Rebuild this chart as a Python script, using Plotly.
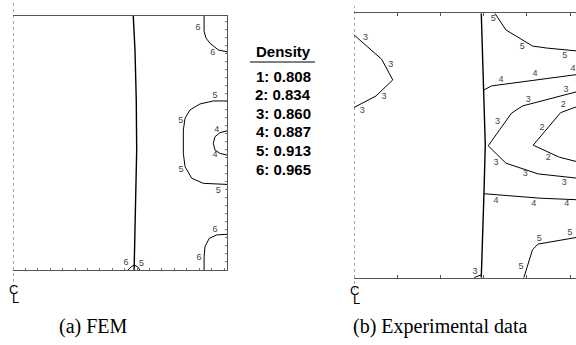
import plotly.graph_objects as go

# ---------------- data (panel units: width = 100, height = 118.7) ----------------
H = 118.7

# (a) FEM
fem_boundary_x = [56.2, 57.0, 57.6, 57.8, 57.3, 56.9, 56.7, 56.6]
fem_boundary_y = [118.7, 102.8, 79.4, 56.1, 32.7, 9.3, 3.3, 0]
fem_c6_top_x = [89.3, 89.3, 90.2, 92.1, 96.0, 100]
fem_c6_top_y = [118.7, 111.4, 108.4, 105.9, 102.8, 102.0]
fem_c5_x = [100, 93.6, 87.4, 82.7, 80.4, 79.6, 79.6, 80.4, 83.5, 88.9, 100]
fem_c5_y = [79.0, 79.0, 77.6, 74.8, 70.9, 65.4, 54.5, 48.3, 42.9, 40.5, 40.0]
fem_c4_x = [100, 96.7, 94.4, 93.6, 94.4, 96.7, 100]
fem_c4_y = [65.0, 64.2, 62.3, 59.2, 56.1, 54.5, 53.7]
fem_c6_bot_x = [100, 95.2, 91.7, 89.7, 89.3, 89.3]
fem_c6_bot_y = [16.7, 16.4, 14.8, 10.9, 6.2, 0]
fem_c6_small_x = [56.7, 55.2, 53.7]
fem_c6_small_y = [2.3, 1.5, 0]
fem_c5_small_x = [56.7, 58.2, 59.3]
fem_c5_small_y = [2.3, 1.5, 0]
fem_label_text = ["6", "6", "5", "5", "5", "5", "4", "4", "6", "6", "6", "5"]
fem_label_x = [86.5, 93.3, 94.4, 78.4, 78.5, 95.9, 95.2, 94.4, 94.4, 86.9, 52.8, 60.1]
fem_label_y = [113.1, 101.4, 81.3, 69.6, 46.7, 36.9, 65.7, 53.7, 18.7, 5.9, 3.4, 3.1]

# (b) Experimental data
exp_boundary_x = [57.1, 58.3, 58.9, 58.3, 57.6, 57.1]
exp_boundary_y = [118.7, 84.3, 59.6, 37.7, 17.0, 0]
exp_c3_left_x = [0, 12.4, 17.4, 9.9, 0]
exp_c3_left_y = [109.0, 98.1, 88.8, 81.6, 76.4]
exp_c5_top_x = [63.2, 68.2, 80.1, 86.5, 100]
exp_c5_top_y = [118.7, 111.2, 104.0, 103.1, 101.8]
exp_c4_up_x = [58.3, 61.7, 100]
exp_c4_up_y = [84.3, 86.1, 91.2]
exp_c3_x = [100, 75.6, 70.7, 60.2, 68.2, 82.6, 100]
exp_c3_y = [83.5, 77.1, 73.9, 59.2, 51.4, 46.6, 44.7]
exp_c2_x = [100, 92.7, 80.4, 92.1, 100]
exp_c2_y = [76.8, 74.1, 59.5, 54.1, 52.1]
exp_c4_low_x = [58.3, 83.4, 100]
exp_c4_low_y = [37.7, 35.7, 35.0]
exp_c5_low_x = [100, 82.6, 80.1, 76.2]
exp_c5_low_y = [18.1, 15.1, 12.6, 0]
exp_c3_small_x = [53.8, 57.1]
exp_c3_small_y = [0, 1.3]
exp_label_text = ["3", "3", "3", "3", "5", "5", "5", "4", "4", "4", "3", "3", "3",
                  "3", "3", "3", "2", "2", "2", "4", "4", "4", "5", "5", "5", "3"]
exp_label_x = [5.2, 16.5, 13.5, 3.7, 62.5, 75.5, 94.6, 65.9, 81.2, 98.3, 95.1, 78.2, 64.4,
               63.7, 76.8, 94.3, 93.9, 84.4, 87.1, 63.7, 80.7, 95.4, 83.1, 96.9, 74.9, 54.3]
exp_label_y = [107.8, 95.5, 81.3, 75.0, 116.4, 103.7, 99.5, 88.8, 91.5, 93.6, 84.6, 80.1, 70.1,
               51.7, 46.6, 42.7, 77.6, 67.4, 53.9, 34.5, 33.0, 33.0, 17.4, 20.0, 5.1, 2.8]

legend_title = "Density"
legend_levels = ["1", "2", "3", "4", "5", "6"]
legend_values = ["0.808", "0.834", "0.860", "0.887", "0.913", "0.965"]
captions = ["(a) FEM", "(b) Experimental data"]

# ---------------- figure ----------------
W_PX, H_PX = 576, 345
fig = go.Figure()

LINE = dict(color="black", width=1)
LABEL_FONT = dict(family="Liberation Sans, Arial", size=9, color="#444")

fem_lines = [
    (fem_c6_top_x, fem_c6_top_y), (fem_c5_x, fem_c5_y), (fem_c4_x, fem_c4_y),
    (fem_c6_bot_x, fem_c6_bot_y), (fem_c6_small_x, fem_c6_small_y), (fem_c5_small_x, fem_c5_small_y),
]
exp_lines = [
    (exp_c3_left_x, exp_c3_left_y), (exp_c5_top_x, exp_c5_top_y), (exp_c4_up_x, exp_c4_up_y),
    (exp_c3_x, exp_c3_y), (exp_c2_x, exp_c2_y), (exp_c4_low_x, exp_c4_low_y),
    (exp_c5_low_x, exp_c5_low_y), (exp_c3_small_x, exp_c3_small_y),
]

def add_panel(lines, bx, by, lt, lx, ly, xa, ya):
    fig.add_trace(go.Scatter(x=bx, y=by, mode="lines", line=dict(color="black", width=1.4),
                             xaxis=xa, yaxis=ya, hoverinfo="skip"))
    for xs, ys in lines:
        fig.add_trace(go.Scatter(x=xs, y=ys, mode="lines", line=LINE,
                                 xaxis=xa, yaxis=ya, hoverinfo="skip"))
    fig.add_trace(go.Scatter(x=lx, y=ly, text=lt, mode="text", textfont=LABEL_FONT,
                             textposition="middle center", xaxis=xa, yaxis=ya, hoverinfo="skip"))

add_panel(fem_lines, fem_boundary_x, fem_boundary_y, fem_label_text, fem_label_x, fem_label_y, "x", "y")
add_panel(exp_lines, exp_boundary_x, exp_boundary_y, exp_label_text, exp_label_x, exp_label_y, "x2", "y2")

FRAME = "#555"
fig.update_layout(
    width=W_PX, height=H_PX, margin=dict(l=0, r=0, t=0, b=0),
    paper_bgcolor="white", plot_bgcolor="white", showlegend=False,
    xaxis=dict(domain=[13 / W_PX, 227 / W_PX], range=[0, 100], showgrid=False, zeroline=False,
               showline=True, linecolor=FRAME, linewidth=1.3, mirror=True,
               ticks="inside", ticklen=2, tickcolor="#777", tickwidth=1, dtick=5.8, tick0=0,
               showticklabels=False),
    yaxis=dict(domain=[1 - 270 / H_PX, 1 - 16 / H_PX], range=[0, H], side="right",
               showgrid=False, zeroline=False, showline=True, linecolor=FRAME, linewidth=1.3,
               ticks="inside", ticklen=2, tickcolor="#777", tickwidth=1, dtick=3.75, tick0=0,
               showticklabels=False),
    xaxis2=dict(domain=[354 / W_PX, 1], range=[0, 99.6], anchor="y2", showgrid=False, zeroline=False,
                showline=True, linecolor=FRAME, linewidth=1.3, mirror="ticks",
                ticks="inside", ticklen=3, tickcolor=FRAME, dtick=19.4, tick0=0,
                showticklabels=False),
    yaxis2=dict(domain=[1 - 277.7 / H_PX, 1 - 13.3 / H_PX], range=[0, H], anchor="x2",
                visible=False),
)

# dashed centerlines
fig.add_shape(type="line", xref="x", yref="paper", x0=0, x1=0, y0=1 - 288 / H_PX, y1=1 - 3 / H_PX,
              line=dict(color="#555", width=1, dash="dot"))
fig.add_shape(type="line", xref="x2", yref="paper", x0=0, x1=0, y0=1 - 290 / H_PX, y1=1 - 6 / H_PX,
              line=dict(color="#555", width=1, dash="dot"))

# centerline symbols: C above L, L stem on the centre line
CL_FONT = dict(family="Liberation Sans, Arial", size=13, color="black")
for xr, yoff in [("x", 0), ("x2", 1)]:
    fig.add_annotation(x=0, xref=xr, y=1 - (289 + yoff) / H_PX, yref="paper", text="C",
                       showarrow=False, font=CL_FONT, xanchor="center", yanchor="middle",
                       xshift=0, borderpad=0)
    fig.add_annotation(x=0, xref=xr, y=1 - (298 + yoff) / H_PX, yref="paper", text="L",
                       showarrow=False, font=CL_FONT, xanchor="left", yanchor="middle",
                       xshift=-2.5, borderpad=0)

# legend block
LEG_X = 283 / W_PX
LEG_FONT = dict(family="Liberation Sans, Arial", size=15, color="black")
fig.add_annotation(x=LEG_X, y=1 - 52 / H_PX, xref="paper", yref="paper", text="<b>" + legend_title + "</b>",
                   showarrow=False, font=LEG_FONT, xanchor="center", yanchor="middle")
fig.add_shape(type="line", xref="paper", yref="paper", x0=250 / W_PX, x1=315 / W_PX,
              y0=1 - 62 / H_PX, y1=1 - 62 / H_PX, line=dict(color="black", width=1.2))
for i, (lv, val) in enumerate(zip(legend_levels, legend_values)):
    fig.add_annotation(x=LEG_X, y=1 - (76 + i * 18.6) / H_PX, xref="paper", yref="paper",
                       text="<b>" + lv + ": " + val + "</b>", showarrow=False, font=LEG_FONT,
                       xanchor="center", yanchor="middle")

# captions
for cx, cap in zip([93, 440], captions):
    fig.add_annotation(x=cx / W_PX, y=1 - 326 / H_PX, xref="paper", yref="paper", text=cap,
                       showarrow=False, font=dict(family="Liberation Serif, Times New Roman", size=20,
                                                  color="black"),
                       xanchor="center", yanchor="middle")

fig.write_html("out.html")
